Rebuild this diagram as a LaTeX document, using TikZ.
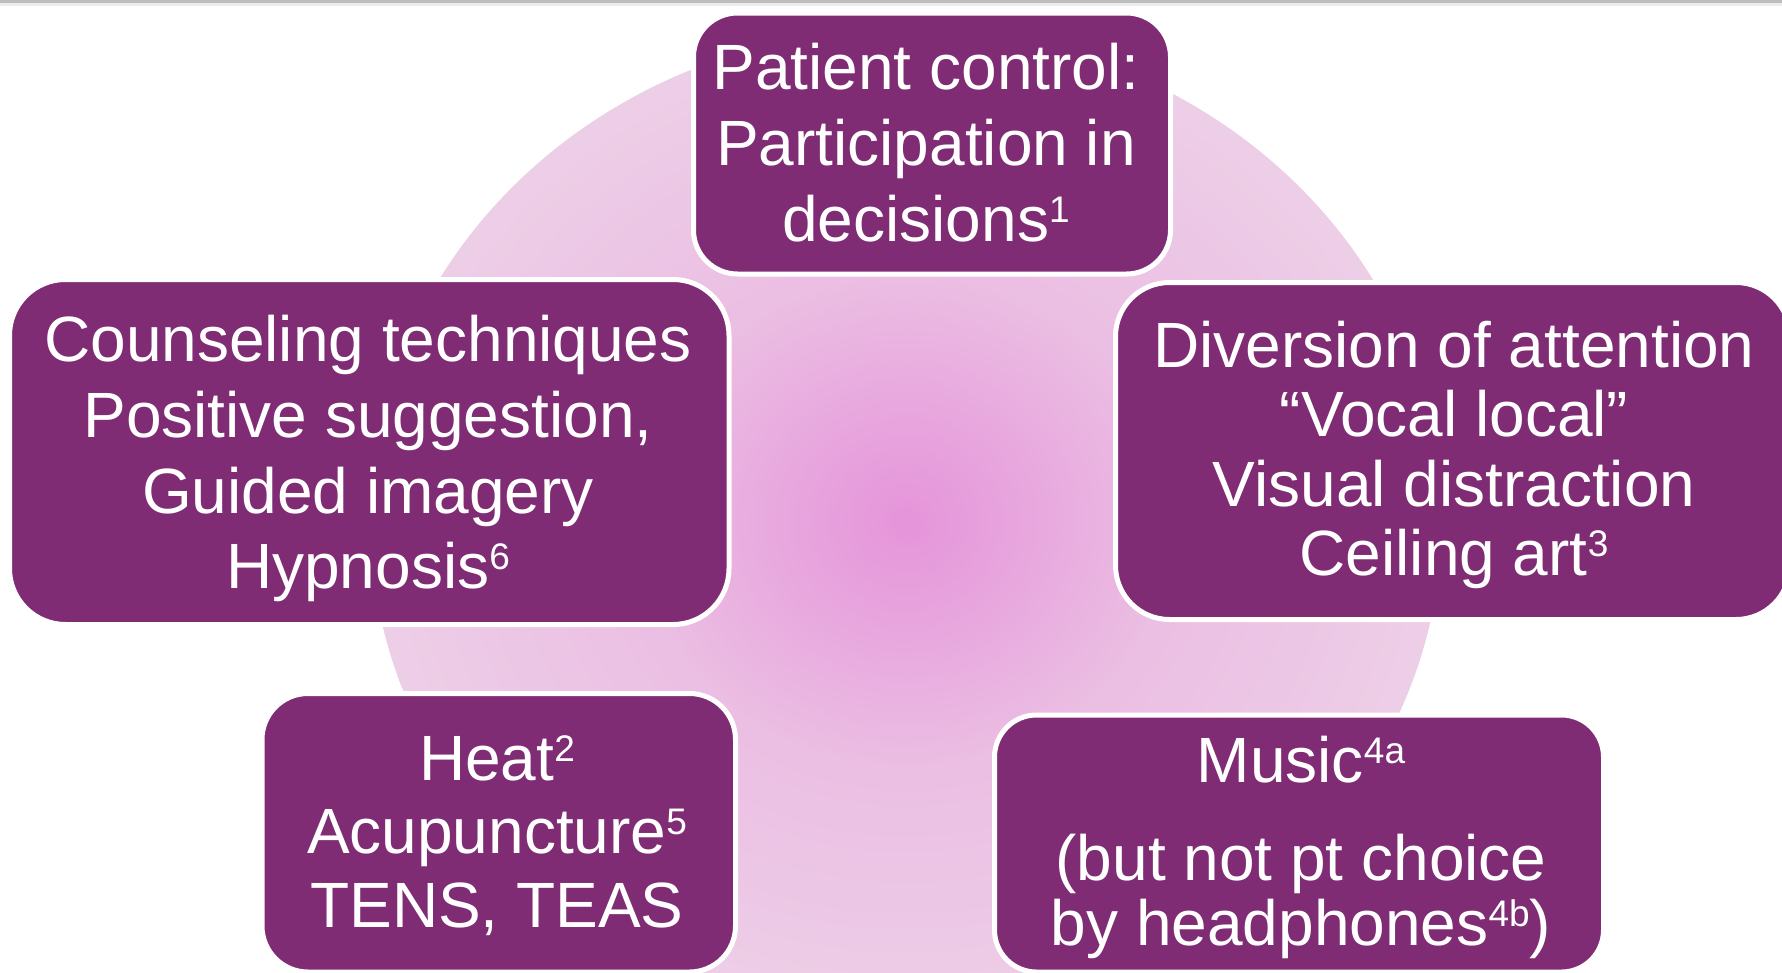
\documentclass[tikz,border=0pt]{standalone}
\usepackage{fontspec}
\setmainfont{Liberation Sans}

% palette
\definecolor{plum}{RGB}{127,44,116}
\definecolor{glowA}{RGB}{229,148,218}
\definecolor{glowB}{RGB}{232,168,222}
\definecolor{glowC}{RGB}{235,190,227}
\definecolor{glowD}{RGB}{237,206,231}
\definecolor{rulegray}{RGB}{189,189,189}
\definecolor{rulelight}{RGB}{236,236,236}

% soft pink glow behind the cards
\pgfdeclareradialshading{pinkglow}{\pgfpointorigin}{%
  color(0bp)=(glowA); color(6bp)=(glowB); color(12.5bp)=(glowC);
  color(25bp)=(glowD); color(50bp)=(glowD)}

% raised footnote marks
\newcommand\supr[1]{\raisebox{19pt}{\fontsize{37}{37}\selectfont #1}}
% first-line strut so that a text node's north edge sits 50pt above its first baseline
\newcommand\firststrut{\rule{0pt}{50pt}}

\tikzset{
  card/.style={rectangle, fill=plum, draw=white, line width=5pt, inner sep=0pt},
  cardtext/.style={text=white, align=center, inner sep=0pt, anchor=north,
    font=\fontsize{64}{#1}\selectfont},
}

\begin{document}
\begin{tikzpicture}[x=1pt, y=-1pt]
  \useasboundingbox (0,0) rectangle (1782,972);
  \fill[white] (0,0) rectangle (1782,972);
  \clip (0,0) rectangle (1782,972);

  % thin rule along the top edge
  \fill[rulegray] (0,0) rectangle (1782,3.3);
  \fill[rulelight] (0,3.3) rectangle (1782,6);

  % glow disc
  \shade[shading=pinkglow] (906,521) ellipse [x radius=535.5, y radius=492.5];

  % cards
  \node[card, rounded corners=44pt, minimum width=477pt, minimum height=261pt]
    (patientbox) at (932,143.5) {};
  \node[card, rounded corners=56pt, minimum width=719.5pt, minimum height=345pt]
    (counselbox) at (369.25,452) {};
  \node[card, rounded corners=54pt, minimum width=674.5pt, minimum height=337pt]
    (divertbox) at (1452.75,451) {};
  \node[card, rounded corners=46pt, minimum width=473.5pt, minimum height=278.5pt]
    (heatbox) at (498.75,832.75) {};
  \node[card, rounded corners=42pt, minimum width=609pt, minimum height=257pt]
    (musicbox) at (1299,843.5) {};

  % card texts
  \node[cardtext=76] (patient) at (926,39)
    {\firststrut Patient control:\\Participation in\\decisions\supr{1}};
  \node[cardtext=75.7] (counsel) at (368,311.5)
    {\firststrut Counseling techniques\\Positive suggestion,\\Guided imagery\\Hypnosis\supr{6}};
  \node[cardtext=69.5] (divert) at (1454,317)
    {\firststrut Diversion of attention\\“Vocal local”\\Visual distraction\\Ceiling art\supr{3}};
  \node[cardtext=73.5] (heat) at (497,730)
    {\firststrut Heat\supr{2}\\Acupuncture\supr{5}\\TENS, TEAS};
  \node[cardtext=65] (music) at (1301,732)
    {\firststrut Music\supr{4a}\\[33pt](but not pt choice\\by headphones\supr{4b})};
\end{tikzpicture}
\end{document}
